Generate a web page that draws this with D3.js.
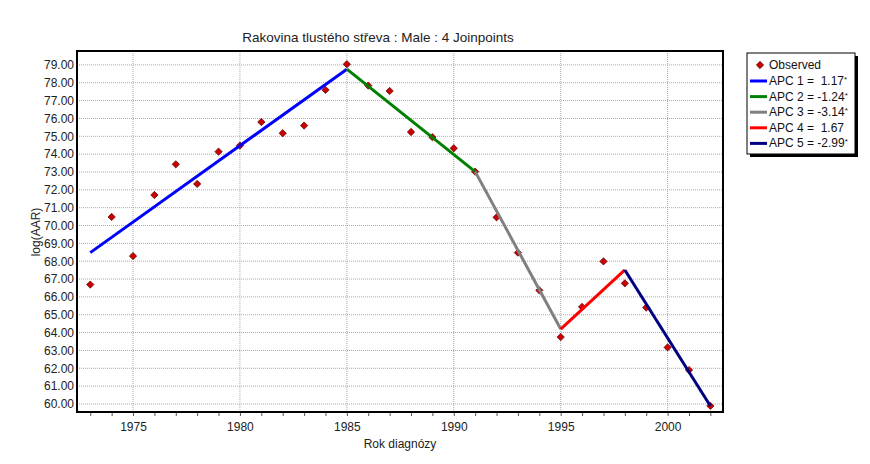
<!DOCTYPE html>
<html>
<head>
<meta charset="utf-8">
<script src="https://cdn.jsdelivr.net/npm/d3@7"></script>
<style>
	body { margin: 0; background: #fff; }
	svg { font-family: "Liberation Sans", Arial, sans-serif; }
</style>
</head>
<body>
<svg></svg>
<script>
// observed log(AAR) by year of diagnosis
const years = [1973, 1974, 1975, 1976, 1977, 1978, 1979, 1980, 1981, 1982, 1983, 1984, 1985, 1986, 1987,
	1988, 1989, 1990, 1991, 1992, 1993, 1994, 1995, 1996, 1997, 1998, 1999, 2000, 2001, 2002]
const observed = [66.69, 70.48, 68.29, 71.71, 73.43, 72.33, 74.14, 74.48, 75.80, 75.17, 75.60, 77.60, 79.04, 77.84, 77.54,
	75.24, 74.95, 74.33, 73.02, 70.46, 68.48, 66.37, 63.75, 65.44, 67.99, 66.76, 65.40, 63.17, 61.90, 59.89]

// joinpoint model: segment end points
const joinYears = [1973, 1985, 1991, 1995, 1998, 2002]
const joinValues = [68.48, 78.76, 73.02, 64.20, 67.51, 59.89]
const segLabels = ['APC 1 =  1.17', 'APC 2 = -1.24', 'APC 3 = -3.14', 'APC 4 =  1.67', 'APC 5 = -2.99']
const segSignif = [true, true, true, false, true]
const segColors = ['#0000ff', '#008000', '#808080', '#ff0000', '#000080']

const yTicks = d3.range(60, 79.5, 1)
const xTicks = [1975, 1980, 1985, 1990, 1995, 2000]

const width = 870, height = 464
const m = { left: 77, right: 723, top: 51, bottom: 412 }

const svg = d3.select('svg').attr('width', width).attr('height', height)

const scX = d3.scaleLinear().domain([1972.38, 2002.59]).range([m.left, m.right])
const scY = d3.scaleLinear().domain([59.55, 79.78]).range([m.bottom, m.top])

// grid
svg.append('g')
	.selectAll('line')
	.data(yTicks).enter().append('line')
	.attr('x1', m.left).attr('x2', m.right)
	.attr('y1', d => scY(d)).attr('y2', d => scY(d))
	.attr('stroke', '#aaa').attr('stroke-dasharray', '1 1')

svg.append('g')
	.selectAll('line')
	.data(xTicks).enter().append('line')
	.attr('x1', d => scX(d)).attr('x2', d => scX(d))
	.attr('y1', m.top).attr('y2', m.bottom)
	.attr('stroke', '#aaa').attr('stroke-dasharray', '1 1')

// axes
let yAxis = d3.axisLeft(scY).tickValues(yTicks).tickFormat(d3.format('.2f')).tickSize(0).tickPadding(3)
svg.append('g')
	.attr('transform', `translate(${m.left},0)`)
	.call(yAxis)
	.call(g => g.select('.domain').remove())
	.selectAll('text').attr('font-size', 12).attr('fill', '#222')
	.attr('font-family', '"Liberation Sans", Arial, sans-serif')

let xMinor = d3.axisBottom(scX).tickValues(d3.range(1973, 2003)).tickFormat('').tickSize(4)
svg.append('g')
	.attr('transform', `translate(0,${m.bottom})`)
	.call(xMinor)
	.call(g => g.select('.domain').remove())
	.selectAll('line').attr('stroke', '#555')

let xAxis = d3.axisBottom(scX).tickValues(xTicks).tickFormat(d3.format('d')).tickSize(0).tickPadding(10)
svg.append('g')
	.attr('transform', `translate(0,${m.bottom})`)
	.call(xAxis)
	.call(g => g.select('.domain').remove())
	.selectAll('text').attr('font-size', 12).attr('fill', '#222')
	.attr('font-family', '"Liberation Sans", Arial, sans-serif')

// plot frame
svg.append('rect')
	.attr('x', m.left).attr('y', m.top)
	.attr('width', m.right - m.left).attr('height', m.bottom - m.top)
	.attr('fill', 'none').attr('stroke', '#000').attr('stroke-width', 2)

// observed points (drawn under the fitted lines)
const diamond = d3.symbol().type(d3.symbolDiamond2).size(34)
svg.append('g')
	.selectAll('path')
	.data(years).enter().append('path')
	.attr('d', diamond)
	.attr('transform', (d, i) => `translate(${scX(d)},${scY(observed[i])})`)
	.attr('fill', '#cc0000')
	.attr('stroke', '#500')
	.attr('stroke-width', 0.7)

// fitted segments
let lineMkr = d3.line().x(d => scX(d[0])).y(d => scY(d[1]))
svg.append('g')
	.selectAll('path')
	.data(segColors).enter().append('path')
	.attr('d', (c, i) => lineMkr([[joinYears[i], joinValues[i]], [joinYears[i + 1], joinValues[i + 1]]]))
	.attr('fill', 'none')
	.attr('stroke', c => c)
	.attr('stroke-width', 3)

// titles
svg.append('text')
	.attr('x', 378).attr('y', 42)
	.attr('text-anchor', 'middle').attr('font-size', 13.5).attr('fill', '#222')
	.text('Rakovina tlustého střeva : Male : 4 Joinpoints')

svg.append('text')
	.attr('x', 400).attr('y', 448)
	.attr('text-anchor', 'middle').attr('font-size', 12).attr('fill', '#222')
	.text('Rok diagnózy')

svg.append('text')
	.attr('transform', 'translate(40,232) rotate(-90)')
	.attr('text-anchor', 'middle').attr('font-size', 12).attr('fill', '#222')
	.text('log(AAR)')

// legend
let lg = svg.append('g').attr('transform', 'translate(747,53)')
lg.append('rect').attr('x', 3).attr('y', 3).attr('width', 108).attr('height', 101).attr('fill', '#000')
lg.append('rect').attr('width', 108).attr('height', 101).attr('fill', '#fff').attr('stroke', '#000')

lg.append('path')
	.attr('d', diamond)
	.attr('transform', 'translate(13,12)')
	.attr('fill', '#cc0000').attr('stroke', '#500').attr('stroke-width', 0.7)
lg.append('text').attr('x', 22).attr('y', 16).attr('font-size', 12).attr('fill', '#111').text('Observed')

let rows = lg.selectAll('g.row')
	.data(segLabels).enter().append('g')
	.attr('transform', (d, i) => `translate(0,${28 + i * 15.6})`)
rows.append('line')
	.attr('x1', 3).attr('x2', 20).attr('y1', 0).attr('y2', 0)
	.attr('stroke', (d, i) => segColors[i]).attr('stroke-width', 3)
let rowText = rows.append('text')
	.attr('x', 22).attr('y', 4).attr('font-size', 12).attr('fill', '#111')
	.attr('xml:space', 'preserve').style('white-space', 'pre')
rowText.append('tspan').text(d => d)
rowText.append('tspan')
	.attr('font-size', 8).attr('dy', -3)
	.text((d, i) => segSignif[i] ? '*' : '')
</script>
</body>
</html>
